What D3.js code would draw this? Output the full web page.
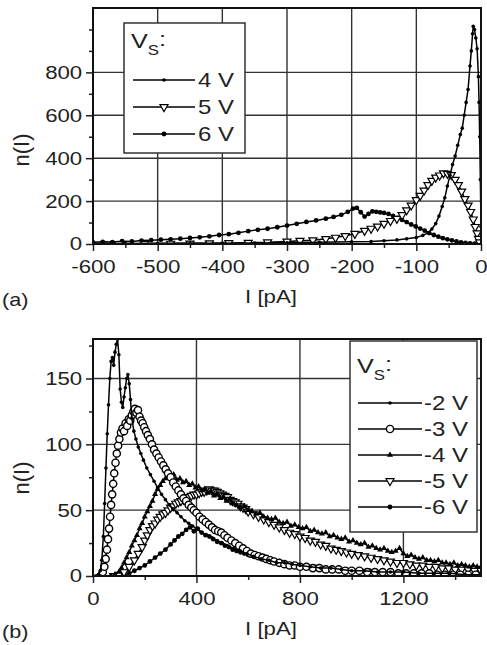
<!DOCTYPE html>
<html>
<head>
<meta charset="utf-8">
<script src="https://cdn.jsdelivr.net/npm/d3@7"></script>
<style>
body { margin: 0; background: #fff; }
text { font-family: "Liberation Sans", Arial, sans-serif; fill: #222; }
</style>
</head>
<body>
<script>
// ---- panel (a) ----
const xTicksA = [-600, -500, -400, -300, -200, -100, 0];
const yTicksA = [0, 200, 400, 600, 800];
const labelsA = ["4 V", "5 V", "6 V"];

const a4V = [[-600,2],[-550,2],[-500,3],[-450,3],[-400,4],[-350,5],[-300,6],[-250,8],[-200,10],[-170,12],[-150,15],[-130,19],[-115,24],[-100,30],[-90,40],[-82,52],[-76,70],[-70,95],[-65,130],[-60,175],[-56,215],[-52,270],[-48,320],[-44,370],[-40,410],[-36,460],[-32,510],[-29,540],[-26,600],[-23,660],[-20,720],[-17,830],[-15,900],[-13,980],[-12,1015],[-10,1000],[-8,960],[-6,910],[-4,780],[-3,660],[-2,500],[-1,300],[0,80]];

const a5V = [[-560,0],[-520,1],[-480,2],[-450,3],[-420,4],[-390,5],[-360,6],[-330,8],[-300,12],[-280,15],[-260,18],[-240,24],[-225,30],[-210,38],[-195,48],[-180,62],[-170,72],[-160,82],[-150,95],[-140,108],[-130,118],[-122,135],[-115,158],[-108,180],[-100,205],[-94,225],[-88,250],[-82,275],[-76,295],[-70,310],[-64,320],[-58,330],[-52,328],[-46,322],[-40,300],[-35,275],[-30,245],[-25,210],[-20,180],[-16,150],[-12,115],[-9,80],[-6,50],[-4,25],[-2,8]];

const a6V = [[-600,8],[-585,10],[-570,9],[-555,13],[-540,12],[-525,16],[-510,18],[-495,20],[-480,22],[-465,25],[-450,28],[-435,31],[-420,36],[-405,42],[-390,46],[-375,52],[-360,60],[-345,66],[-330,71],[-315,78],[-300,86],[-285,94],[-270,103],[-255,110],[-240,118],[-228,126],[-216,136],[-206,150],[-198,165],[-192,168],[-186,148],[-180,128],[-174,140],[-168,152],[-162,150],[-156,147],[-150,145],[-143,140],[-136,131],[-129,122],[-122,112],[-115,102],[-108,91],[-101,82],[-94,72],[-87,62],[-80,51],[-73,42],[-66,34],[-59,27],[-52,22],[-45,17],[-38,12],[-31,8],[-24,5],[-17,3],[-10,2],[-3,1]];

// ---- panel (b) ----
const xTicksB = [0, 400, 800, 1200];
const yTicksB = [0, 50, 100, 150];
const labelsB = ["-2 V", "-3 V", "-4 V", "-5 V", "-6 V"];

const b2V = [[0,0],[10,0],[20,1],[28,4],[34,12],[40,30],[45,55],[50,82],[55,108],[60,130],[65,150],[70,163],[75,166],[80,160],[85,170],[90,176],[95,180],[100,168],[105,142],[110,132],[115,128],[120,136],[125,143],[130,150],[135,153],[140,146],[145,134],[150,120],[158,110],[166,104],[175,98],[185,93],[195,88],[208,82],[222,77],[236,72],[250,67],[265,62],[280,58],[295,54],[310,51],[325,48],[340,45],[355,42],[370,40],[385,38],[400,36],[420,33],[440,31],[460,29],[480,27],[500,25],[520,23],[545,21],[570,19],[595,17],[620,15],[650,13],[680,12],[710,10],[740,10],[770,9],[800,8],[840,7],[880,6],[920,6],[960,5],[1000,4],[1050,4],[1100,3],[1150,3],[1200,3],[1260,2],[1320,2],[1380,2],[1440,1],[1500,1]];

const b3V = [[30,0],[38,3],[44,7],[49,13],[54,20],[58,28],[62,36],[66,45],[70,54],[74,62],[78,70],[82,78],[87,86],[92,93],[97,99],[102,104],[108,109],[114,112],[120,110],[126,116],[132,114],[138,119],[144,118],[150,122],[156,125],[162,127],[168,124],[174,126],[180,121],[186,118],[192,116],[198,113],[205,110],[212,107],[220,104],[228,100],[236,96],[245,93],[254,90],[263,87],[272,84],[281,81],[290,78],[300,75],[310,71],[320,68],[330,65],[340,62],[350,59],[360,57],[370,54],[380,52],[390,50],[400,48],[412,45],[424,43],[436,41],[448,39],[460,37],[472,35],[484,34],[496,33],[508,31],[520,29],[535,27],[550,25],[565,23],[580,21],[595,19],[610,17],[625,16],[640,15],[655,14],[670,13],[685,12],[700,11],[720,10],[740,9],[760,8],[780,8],[800,7],[825,7],[850,6],[875,6],[900,5],[925,5],[950,5],[975,4],[1000,4],[1030,4],[1060,3],[1090,3],[1120,3],[1150,3],[1180,2],[1210,2],[1240,2],[1270,2],[1300,2],[1330,1],[1360,1],[1390,1],[1420,1],[1450,1],[1480,1]];

const b4V = [[70,0],[85,1],[100,3],[110,6],[120,10],[130,14],[140,18],[150,23],[160,27],[170,31],[180,36],[190,40],[200,45],[210,49],[220,53],[230,57],[240,62],[250,66],[260,69],[270,72],[280,74],[290,76],[300,75],[312,77],[324,73],[336,74],[348,71],[360,72],[372,69],[384,70],[396,67],[408,68],[420,65],[432,66],[444,63],[456,64],[468,61],[480,62],[492,59],[504,60],[516,57],[528,58],[540,55],[555,54],[570,52],[585,53],[600,50],[615,49],[630,47],[645,48],[660,45],[675,44],[690,43],[705,44],[720,41],[735,40],[750,41],[765,38],[780,39],[795,37],[810,36],[825,37],[840,34],[855,35],[870,33],[885,32],[900,33],[915,30],[930,31],[945,29],[960,28],[975,29],[990,26],[1005,27],[1020,25],[1035,24],[1050,25],[1065,22],[1080,23],[1095,21],[1110,20],[1125,21],[1140,19],[1155,18],[1170,19],[1185,21],[1200,17],[1215,15],[1230,16],[1245,14],[1260,13],[1275,14],[1290,12],[1305,12],[1320,11],[1335,12],[1350,10],[1365,10],[1380,9],[1395,10],[1410,8],[1425,9],[1440,8],[1455,7],[1470,8],[1485,7],[1500,7]];

const b5V = [[80,0],[100,1],[120,3],[140,7],[160,12],[175,17],[190,22],[200,27],[210,31],[220,35],[230,38],[240,40],[250,43],[260,45],[270,47],[280,48],[290,50],[300,52],[310,53],[320,55],[330,56],[340,57],[350,58],[360,59],[370,60],[380,61],[390,62],[400,62],[410,63],[420,64],[430,64],[440,65],[450,66],[460,65],[470,65],[480,64],[490,63],[500,62],[510,61],[520,60],[530,58],[540,57],[550,56],[560,55],[570,53],[580,52],[590,51],[600,49],[620,47],[640,45],[660,43],[680,41],[700,39],[720,37],[740,35],[760,33],[780,32],[800,30],[820,29],[840,27],[860,26],[880,24],[900,23],[920,21],[940,20],[960,19],[980,18],[1000,17],[1025,16],[1050,15],[1075,14],[1100,13],[1125,12],[1150,11],[1175,10],[1200,10],[1225,9],[1250,8],[1275,8],[1300,7],[1325,7],[1350,6],[1375,6],[1400,5],[1425,5],[1450,5],[1475,4],[1500,4]];

const b6V = [[100,0],[120,1],[140,2],[160,4],[180,6],[200,8],[220,11],[240,14],[260,17],[280,20],[300,24],[315,27],[330,30],[345,32],[360,35],[375,37],[390,34],[405,36],[420,33],[435,31],[450,30],[465,28],[480,26],[495,25],[510,23],[525,22],[540,20],[555,19],[570,18],[585,17],[600,16],[620,15],[640,14],[660,13],[680,12],[700,11],[725,10],[750,9],[775,9],[800,8],[830,7],[860,7],[890,6],[920,6],[950,5],[980,5],[1010,4],[1040,4],[1070,4],[1100,3],[1150,3],[1200,3],[1250,2],[1300,2],[1350,2],[1400,2],[1450,1],[1500,1]];

const svg = d3.select("body").append("svg")
  .attr("width", 487)
  .attr("height", 645)
  .style("background", "#fff");

function drawMarker(g, kind) {
  if (kind == "sdot") {
    g.append("circle").attr("r", 1.8).attr("fill", "#000");
  } else if (kind == "dot") {
    g.append("circle").attr("r", 2.4).attr("fill", "#000");
  } else if (kind == "circ") {
    g.append("circle").attr("r", 3.6).attr("fill", "#fff").attr("stroke", "#000").attr("stroke-width", 1.4);
  } else if (kind == "dtri") {
    g.append("path").attr("d", d3.symbol().type(d3.symbolTriangle).size(28)())
      .attr("transform", "rotate(180)")
      .attr("fill", "#fff").attr("stroke", "#000").attr("stroke-width", 1.2);
  } else if (kind == "utri") {
    g.append("path").attr("d", d3.symbol().type(d3.symbolTriangle).size(16)())
      .attr("fill", "#000");
  }
}

function drawPanel(cfg) {
  const x = d3.scaleLinear().domain(cfg.xDomain).range([93, 481]);
  const y = d3.scaleLinear().domain(cfg.yDomain).range([cfg.bottom, cfg.top]);
  const g = svg.append("g");

  // grid
  g.selectAll(".vg").data(cfg.xTicks.filter(v => v > cfg.xDomain[0] && v < cfg.xDomain[1]))
    .enter().append("line")
    .attr("x1", d => x(d)).attr("x2", d => x(d))
    .attr("y1", cfg.top).attr("y2", cfg.bottom)
    .attr("stroke", "#333").attr("stroke-width", 1.4);
  g.selectAll(".hg").data(cfg.yTicks.filter(v => v > 0))
    .enter().append("line")
    .attr("x1", 93).attr("x2", 481)
    .attr("y1", d => y(d)).attr("y2", d => y(d))
    .attr("stroke", "#333").attr("stroke-width", 1.4);

  // data, drawn last-listed first so the first series sits on top
  g.append("clipPath").attr("id", cfg.id)
    .append("rect").attr("x", 93).attr("y", cfg.top)
    .attr("width", 388).attr("height", cfg.bottom - cfg.top);
  const plot = g.append("g").attr("clip-path", "url(#" + cfg.id + ")");
  const line = d3.line().x(d => x(d[0])).y(d => y(d[1]));
  cfg.series.slice().reverse().forEach(s => {
    plot.append("path").datum(s.data)
      .attr("d", line)
      .attr("fill", "none").attr("stroke", "#000").attr("stroke-width", 1.5);
    plot.append("g").selectAll("g").data(s.data).enter().append("g")
      .attr("transform", d => "translate(" + x(d[0]) + "," + y(d[1]) + ")")
      .each(function() { drawMarker(d3.select(this), s.marker); });
  });

  // axes
  const fmt = d => String(d);
  const xAxis = g.append("g").attr("transform", "translate(0," + cfg.bottom + ")")
    .call(d3.axisBottom(x).tickValues(cfg.xTicks).tickFormat(fmt).tickSize(7).tickPadding(9));
  xAxis.append("g").call(d3.axisBottom(x).tickValues(cfg.xMinor).tickSize(4).tickFormat(""));
  const yAxis = g.append("g").attr("transform", "translate(93,0)")
    .call(d3.axisLeft(y).tickValues(cfg.yTicks).tickFormat(fmt).tickSize(7).tickPadding(2));
  yAxis.append("g").call(d3.axisLeft(y).tickValues(cfg.yMinor).tickSize(4).tickFormat(""));
  [xAxis, yAxis].forEach(a => {
    a.selectAll(".domain").remove();
    a.selectAll("line").attr("stroke", "#222").attr("stroke-width", 1.5);
    a.selectAll("text").style("font-size", "18.5px")
      .style("font-family", "'Liberation Sans', Arial, sans-serif")
      .attr("fill", "#222")
      .attr("transform", "scale(1.2,1)");
  });

  // frame
  g.append("rect").attr("x", 93).attr("y", cfg.top)
    .attr("width", 388).attr("height", cfg.bottom - cfg.top)
    .attr("fill", "none").attr("stroke", "#111").attr("stroke-width", 2);

  // titles
  g.append("text").attr("transform", "translate(271," + (cfg.bottom + 59) + ") scale(1.2,1)")
    .attr("text-anchor", "middle").style("font-size", "18.5px").text("I [pA]");
  g.append("text").attr("transform", "translate(29," + cfg.yMid + ") rotate(-90)")
    .attr("text-anchor", "middle").style("font-size", "22px").text("n(I)");
  g.append("text").attr("transform", "translate(2," + (cfg.bottom + 62) + ") scale(1.2,1)")
    .style("font-size", "18px").text(cfg.tag);

  // legend
  const L = cfg.legend;
  const lg = g.append("g");
  lg.append("rect").attr("x", L.x).attr("y", L.y).attr("width", L.w).attr("height", L.h)
    .attr("fill", "#fff").attr("stroke", "#333").attr("stroke-width", 1.5);
  const title = lg.append("text")
    .attr("transform", "translate(" + (L.x + 7) + "," + L.titleY + ") scale(1.2,1)")
    .style("font-size", "21px");
  title.append("tspan").text("V");
  title.append("tspan").attr("dy", 7).style("font-size", "14px").text("S");
  title.append("tspan").attr("dy", -9).text(":");
  cfg.series.forEach((s, i) => {
    const cy = L.row0 + i * L.step;
    lg.append("line").attr("x1", L.lx0).attr("x2", L.lx1).attr("y1", cy).attr("y2", cy)
      .attr("stroke", "#000").attr("stroke-width", 1.3);
    drawMarker(lg.append("g").attr("transform", "translate(" + ((L.lx0 + L.lx1) / 2) + "," + cy + ")"), s.marker);
    lg.append("text").attr("transform", "translate(" + L.tx + "," + (cy + 7) + ") scale(1.2,1)")
      .style("font-size", "20px").text(s.label);
  });
}

drawPanel({
  id: "clipA", tag: "(a)", top: 8, bottom: 244, yMid: 150,
  xDomain: [-600, 0], yDomain: [0, 1100],
  xTicks: xTicksA, yTicks: yTicksA,
  xMinor: d3.range(-550, 0, 100), yMinor: [100, 300, 500, 700, 900, 1000],
  series: [
    { data: a4V, marker: "sdot", label: labelsA[0] },
    { data: a5V, marker: "dtri", label: labelsA[1] },
    { data: a6V, marker: "dot", label: labelsA[2] }
  ],
  legend: { x: 124, y: 23, w: 121, h: 130, titleY: 48, row0: 80, step: 27, lx0: 133, lx1: 195, tx: 198 }
});

drawPanel({
  id: "clipB", tag: "(b)", top: 339, bottom: 576, yMid: 478,
  xDomain: [0, 1500], yDomain: [0, 180],
  xTicks: xTicksB, yTicks: yTicksB,
  xMinor: [200, 600, 1000, 1400], yMinor: [25, 75, 125, 175],
  series: [
    { data: b2V, marker: "sdot", label: labelsB[0] },
    { data: b3V, marker: "circ", label: labelsB[1] },
    { data: b4V, marker: "utri", label: labelsB[2] },
    { data: b5V, marker: "dtri", label: labelsB[3] },
    { data: b6V, marker: "dot", label: labelsB[4] }
  ],
  legend: { x: 350, y: 341, w: 127, h: 191, titleY: 373, row0: 403, step: 26, lx0: 358, lx1: 422, tx: 424 }
});
</script>
</body>
</html>
